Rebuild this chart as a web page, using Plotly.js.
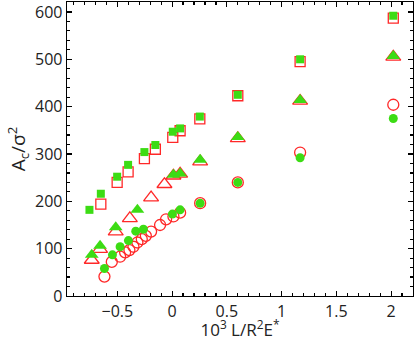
<!DOCTYPE html>
<html>
<head>
<meta charset="utf-8">
<script src="https://cdn.plot.ly/plotly-3.0.1.min.js"></script>
<style>
  html, body { margin: 0; padding: 0; background: white; }
  #chart { width: 415px; height: 341px; }
</style>
</head>
<body>
<div id="chart"></div>
<script>
// squares
const sqGreenX = [-0.755, -0.651, -0.502, -0.402, -0.253, -0.153, 0.006, 0.073, 0.253, 0.600, 1.169, 2.02];
const sqGreenY = [182, 216, 252, 277, 304, 319, 347, 354, 379, 425, 500, 592];
const sqRedX = [-0.651, -0.502, -0.402, -0.253, -0.153, 0.006, 0.073, 0.253, 0.600, 1.169, 2.02];
const sqRedY = [194, 240, 262, 290, 310, 335, 349, 374, 423, 495, 587];

// triangles
const triRedX = [-0.734, -0.658, -0.515, -0.386, -0.192, -0.070, 0.012, 0.073, 0.256, 0.600, 1.169, 2.02];
const triRedY = [76, 99, 136, 164, 208, 236, 254, 258, 284, 333, 412, 505];
const triGreenX = [-0.734, -0.658, -0.515, -0.317, 0.012, 0.073, 0.256, 0.600, 1.169, 2.02];
const triGreenY = [87, 106, 145, 182, 256, 259, 288, 336, 414, 507];

// circles
const cirRedX = [-0.618, -0.551, -0.475, -0.429, -0.390, -0.353, -0.317, -0.277, -0.240, -0.192, -0.110, -0.055, 0.012, 0.073, 0.256, 0.600, 1.169, 2.02];
const cirRedY = [41, 72, 83, 92, 97, 104, 113, 120, 127, 136, 150, 162, 168, 176, 196, 240, 303, 404];
const cirGreenX = [-0.618, -0.545, -0.475, -0.399, -0.332, -0.262, 0.003, 0.073, 0.256, 0.600, 1.169, 2.02];
const cirGreenY = [58, 87, 104, 117, 137, 141, 173, 182, 196, 240, 292, 375];

const red = 'rgb(255,40,40)';
const green = 'rgb(60,220,20)';

// open symbols take their outline colour from marker.color
function openPts(x, y, sym, size) {
    return { x: x, y: y, mode: 'markers', type: 'scatter',
        marker: { symbol: sym, size: size, color: red, line: { width: 1.3 } } };
}
function fillPts(x, y, sym, size) {
    return { x: x, y: y, mode: 'markers', type: 'scatter',
        marker: { symbol: sym, size: size, color: green, line: { width: 0 } } };
}

const traces = [
    openPts(sqRedX, sqRedY, 'square-open', 10),
    openPts(triRedX, triRedY, 'triangle-up-open', 13),
    openPts(cirRedX, cirRedY, 'circle-open', 11),
    fillPts(sqGreenX, sqGreenY, 'square', 8),
    fillPts(triGreenX, triGreenY, 'triangle-up', 12),
    fillPts(cirGreenX, cirGreenY, 'circle', 9)
];

const axisCommon = {
    showline: true, linecolor: 'black', linewidth: 1.3, mirror: 'ticks',
    showgrid: false, zeroline: false,
    ticks: 'inside', ticklen: 5, tickcolor: 'black', tickwidth: 1.2,
    tickfont: { size: 16, color: '#222' }
};

const layout = {
    width: 415, height: 341,
    margin: { l: 67, r: 2, t: 2, b: 45 },
    paper_bgcolor: 'white', plot_bgcolor: 'white',
    font: { family: 'Open Sans, sans-serif', color: '#222' },
    showlegend: false,
    xaxis: Object.assign({}, axisCommon, {
        range: [-0.96, 2.2], dtick: 0.5,
        minor: { dtick: 0.1, ticks: 'inside', ticklen: 3, tickcolor: 'black' },
        title: { text: '10<sup>3</sup> L/R<sup>2</sup>E<sup>*</sup>', font: { size: 17 }, standoff: 7 }
    }),
    yaxis: Object.assign({}, axisCommon, {
        range: [0, 621], dtick: 100,
        minor: { dtick: 20, ticks: 'inside', ticklen: 3, tickcolor: 'black' },
        title: { text: 'A<sub>c</sub>/σ<sup>2</sup>', font: { size: 19 }, standoff: 4 }
    })
};

Plotly.newPlot('chart', traces, layout, { staticPlot: true });
</script>
</body>
</html>
